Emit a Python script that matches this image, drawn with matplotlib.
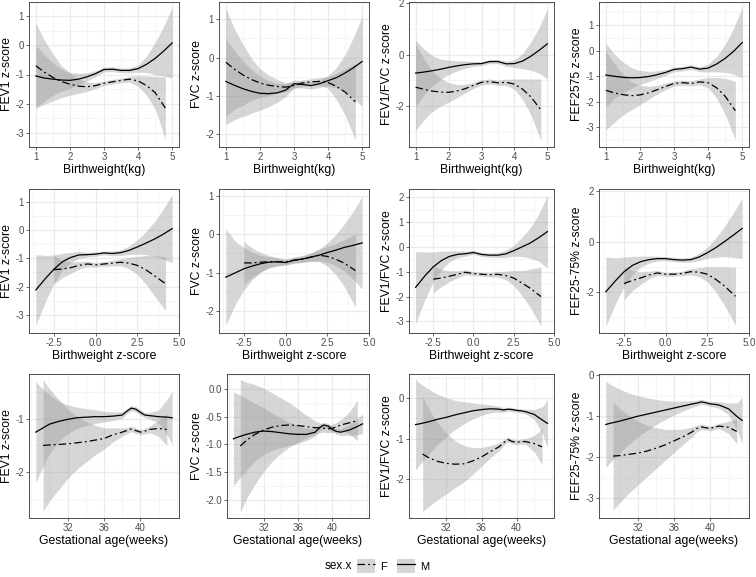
import matplotlib
matplotlib.use("Agg")
import matplotlib.pyplot as plt
from matplotlib.patches import Patch
from matplotlib.lines import Line2D
from matplotlib.ticker import AutoMinorLocator, FormatStrFormatter

plt.rcParams['font.family'] = ['Liberation Sans', 'DejaVu Sans']

# ---- x grids (per row, per sex) ----
BW_M = [1.0, 1.25, 1.5, 1.75, 2.0, 2.25, 2.5, 2.75, 3.0, 3.25, 3.5, 3.75, 4.0, 4.25, 4.5, 4.75, 5.0]
BW_F = [1.0, 1.25, 1.5, 1.75, 2.0, 2.25, 2.5, 2.75, 3.0, 3.25, 3.5, 3.75, 4.0, 4.25, 4.5, 4.8]
BWZ_M = [-3.6, -3.0, -2.5, -2.0, -1.5, -1.0, -0.5, 0.0, 0.5, 1.0, 1.5, 2.0, 2.5, 3.0, 3.5, 4.0, 4.6]
BWZ_F = [-2.5, -2.0, -1.5, -1.0, -0.5, 0.0, 0.5, 1.0, 1.5, 2.0, 2.5, 3.0, 3.5, 4.2]
GA_M = [28.5, 29, 30, 31, 32, 33, 34, 35, 36, 37, 38, 38.5, 39, 39.5, 40, 40.5, 41, 42, 43, 43.5]
GA_F = [29.3, 30, 31, 32, 33, 34, 35, 36, 37, 38, 38.5, 39, 39.5, 40, 40.5, 41, 42, 42.9]

# ---- smoothed means and CI half widths (M solid, F dotdash) ----
fev1_bw_m = [-1.05, -1.12, -1.16, -1.19, -1.2, -1.16, -1.08, -0.97, -0.83, -0.82, -0.86, -0.86, -0.8, -0.65, -0.45, -0.2, 0.08]
fev1_bw_m_ci = [1.05, 0.8, 0.55, 0.38, 0.27, 0.2, 0.14, 0.1, 0.08, 0.08, 0.08, 0.09, 0.12, 0.28, 0.55, 0.85, 1.2]
fev1_bw_f = [-0.7, -0.92, -1.1, -1.24, -1.33, -1.4, -1.42, -1.38, -1.3, -1.25, -1.2, -1.16, -1.22, -1.38, -1.62, -2.15]
fev1_bw_f_ci = [1.45, 1.1, 0.8, 0.55, 0.38, 0.25, 0.16, 0.1, 0.08, 0.08, 0.08, 0.1, 0.18, 0.33, 0.55, 1.07]

fvc_bw_m = [-0.62, -0.72, -0.81, -0.88, -0.93, -0.94, -0.92, -0.85, -0.68, -0.7, -0.73, -0.68, -0.6, -0.52, -0.4, -0.26, -0.1]
fvc_bw_m_ci = [1.12, 0.9, 0.72, 0.57, 0.44, 0.34, 0.25, 0.17, 0.1, 0.09, 0.09, 0.1, 0.13, 0.27, 0.48, 0.8, 1.18]
fvc_bw_f = [-0.12, -0.3, -0.45, -0.57, -0.66, -0.72, -0.75, -0.77, -0.73, -0.66, -0.63, -0.62, -0.65, -0.75, -0.9, -1.15]
fvc_bw_f_ci = [1.4, 1.05, 0.8, 0.55, 0.37, 0.27, 0.18, 0.12, 0.08, 0.08, 0.08, 0.1, 0.15, 0.35, 0.6, 1.0]

ratio_bw_m = [-0.72, -0.68, -0.63, -0.57, -0.5, -0.44, -0.39, -0.36, -0.35, -0.27, -0.27, -0.36, -0.35, -0.25, -0.06, 0.17, 0.42]
ratio_bw_m_ci = [1.29, 0.9, 0.6, 0.4, 0.28, 0.2, 0.14, 0.1, 0.08, 0.08, 0.08, 0.1, 0.15, 0.3, 0.55, 0.9, 1.36]
ratio_bw_f = [-1.27, -1.35, -1.42, -1.46, -1.47, -1.42, -1.33, -1.2, -1.08, -1.05, -1.1, -1.08, -1.15, -1.35, -1.65, -2.15]
ratio_bw_f_ci = [1.68, 1.2, 0.8, 0.55, 0.38, 0.26, 0.17, 0.12, 0.1, 0.1, 0.1, 0.12, 0.2, 0.4, 0.7, 1.2]

fef_bw_m = [-0.95, -1.0, -1.04, -1.06, -1.05, -1.01, -0.94, -0.85, -0.73, -0.7, -0.64, -0.72, -0.68, -0.52, -0.3, -0.02, 0.32]
fef_bw_m_ci = [1.25, 0.88, 0.6, 0.4, 0.28, 0.2, 0.15, 0.11, 0.09, 0.09, 0.09, 0.1, 0.15, 0.3, 0.55, 0.9, 1.38]
fef_bw_f = [-1.55, -1.65, -1.72, -1.76, -1.73, -1.65, -1.53, -1.4, -1.28, -1.25, -1.28, -1.22, -1.25, -1.45, -1.78, -2.35]
fef_bw_f_ci = [1.55, 1.15, 0.8, 0.55, 0.38, 0.26, 0.17, 0.12, 0.1, 0.1, 0.1, 0.12, 0.2, 0.4, 0.7, 1.15]

fev1_bwz_m = [-2.12, -1.7, -1.38, -1.12, -0.97, -0.88, -0.87, -0.85, -0.81, -0.83, -0.8, -0.72, -0.6, -0.47, -0.33, -0.17, 0.05]
fev1_bwz_m_ci = [1.25, 0.8, 0.5, 0.3, 0.18, 0.12, 0.08, 0.07, 0.07, 0.08, 0.1, 0.15, 0.25, 0.4, 0.6, 0.85, 1.2]
fev1_bwz_f = [-1.4, -1.38, -1.33, -1.25, -1.2, -1.23, -1.2, -1.17, -1.14, -1.17, -1.25, -1.4, -1.6, -1.9]
fev1_bwz_f_ci = [0.5, 0.3, 0.2, 0.13, 0.1, 0.08, 0.08, 0.1, 0.12, 0.2, 0.32, 0.5, 0.7, 0.95]

fvc_bwz_m = [-1.12, -1.0, -0.9, -0.83, -0.77, -0.73, -0.72, -0.74, -0.68, -0.65, -0.6, -0.55, -0.48, -0.42, -0.35, -0.3, -0.23]
fvc_bwz_m_ci = [1.25, 0.8, 0.55, 0.35, 0.22, 0.14, 0.1, 0.07, 0.07, 0.08, 0.1, 0.15, 0.25, 0.4, 0.6, 0.85, 1.2]
fvc_bwz_f = [-0.75, -0.75, -0.73, -0.72, -0.72, -0.72, -0.68, -0.65, -0.6, -0.55, -0.58, -0.65, -0.75, -0.95]
fvc_bwz_f_ci = [0.55, 0.38, 0.25, 0.16, 0.11, 0.08, 0.08, 0.09, 0.11, 0.16, 0.25, 0.4, 0.6, 0.95]

ratio_bwz_m = [-1.63, -1.15, -0.8, -0.55, -0.38, -0.3, -0.27, -0.22, -0.3, -0.33, -0.33, -0.28, -0.15, 0.0, 0.15, 0.35, 0.62]
ratio_bwz_m_ci = [1.45, 0.95, 0.6, 0.38, 0.22, 0.14, 0.1, 0.08, 0.08, 0.09, 0.1, 0.14, 0.22, 0.38, 0.6, 0.9, 1.47]
ratio_bwz_f = [-1.3, -1.25, -1.18, -1.1, -1.02, -1.07, -1.1, -1.12, -1.1, -1.15, -1.25, -1.45, -1.65, -2.0]
ratio_bwz_f_ci = [0.55, 0.35, 0.22, 0.14, 0.1, 0.08, 0.08, 0.09, 0.11, 0.17, 0.3, 0.5, 0.75, 1.2]

fef_bwz_m = [-2.0, -1.55, -1.2, -0.95, -0.8, -0.72, -0.68, -0.68, -0.72, -0.74, -0.72, -0.62, -0.45, -0.25, -0.02, 0.22, 0.52]
fef_bwz_m_ci = [1.38, 0.9, 0.58, 0.36, 0.22, 0.14, 0.1, 0.08, 0.08, 0.09, 0.1, 0.14, 0.22, 0.38, 0.58, 0.85, 1.2]
fef_bwz_f = [-1.67, -1.55, -1.45, -1.33, -1.25, -1.3, -1.3, -1.27, -1.2, -1.22, -1.3, -1.5, -1.75, -2.18]
fef_bwz_f_ci = [0.65, 0.4, 0.25, 0.15, 0.1, 0.08, 0.08, 0.09, 0.12, 0.18, 0.3, 0.5, 0.75, 1.15]

fev1_ga_m = [-1.25, -1.2, -1.1, -1.05, -1.01, -0.98, -0.97, -0.96, -0.96, -0.95, -0.93, -0.86, -0.8, -0.82, -0.88, -0.93, -0.94, -0.96, -0.97, -0.98]
fev1_ga_m_ci = [0.95, 0.8, 0.55, 0.38, 0.27, 0.2, 0.16, 0.13, 0.1, 0.08, 0.06, 0.05, 0.05, 0.05, 0.05, 0.05, 0.06, 0.12, 0.35, 0.5]
fev1_ga_f = [-1.5, -1.49, -1.48, -1.47, -1.45, -1.43, -1.4, -1.37, -1.3, -1.25, -1.22, -1.19, -1.22, -1.25, -1.23, -1.2, -1.18, -1.2]
fev1_ga_f_ci = [1.23, 1.05, 0.85, 0.65, 0.5, 0.38, 0.28, 0.2, 0.13, 0.08, 0.06, 0.05, 0.05, 0.05, 0.05, 0.06, 0.15, 0.3]

fvc_ga_m = [-0.9, -0.87, -0.82, -0.78, -0.76, -0.77, -0.79, -0.81, -0.82, -0.82, -0.78, -0.7, -0.65, -0.67, -0.73, -0.77, -0.78, -0.74, -0.67, -0.63]
fvc_ga_m_ci = [0.85, 0.78, 0.65, 0.52, 0.42, 0.34, 0.27, 0.21, 0.16, 0.11, 0.07, 0.06, 0.05, 0.05, 0.05, 0.05, 0.06, 0.1, 0.15, 0.18]
fvc_ga_f = [-1.03, -0.93, -0.82, -0.74, -0.69, -0.66, -0.65, -0.66, -0.68, -0.7, -0.7, -0.71, -0.72, -0.71, -0.68, -0.65, -0.61, -0.57]
fvc_ga_f_ci = [1.2, 1.05, 0.9, 0.75, 0.62, 0.5, 0.4, 0.3, 0.2, 0.12, 0.09, 0.07, 0.07, 0.07, 0.08, 0.1, 0.2, 0.37]

ratio_ga_m = [-0.65, -0.63, -0.58, -0.52, -0.47, -0.41, -0.36, -0.31, -0.28, -0.26, -0.27, -0.29, -0.27, -0.28, -0.3, -0.31, -0.33, -0.4, -0.55, -0.62]
ratio_ga_m_ci = [1.12, 1.0, 0.8, 0.62, 0.48, 0.36, 0.27, 0.2, 0.14, 0.1, 0.07, 0.06, 0.05, 0.05, 0.05, 0.05, 0.06, 0.12, 0.35, 0.6]
ratio_ga_f = [-1.38, -1.47, -1.56, -1.61, -1.63, -1.62, -1.55, -1.45, -1.32, -1.2, -1.1, -1.02, -1.07, -1.09, -1.07, -1.07, -1.12, -1.2]
ratio_ga_f_ci = [1.42, 1.2, 0.95, 0.75, 0.58, 0.45, 0.33, 0.23, 0.15, 0.1, 0.07, 0.06, 0.06, 0.06, 0.06, 0.07, 0.2, 0.45]

fef_ga_m = [-1.2, -1.17, -1.12, -1.06, -1.0, -0.95, -0.9, -0.85, -0.8, -0.75, -0.7, -0.68, -0.65, -0.67, -0.7, -0.71, -0.73, -0.82, -1.02, -1.1]
fef_ga_m_ci = [1.05, 0.95, 0.78, 0.63, 0.5, 0.4, 0.31, 0.23, 0.17, 0.12, 0.08, 0.07, 0.06, 0.06, 0.06, 0.07, 0.08, 0.14, 0.35, 0.57]
fef_ga_f = [-1.97, -1.96, -1.93, -1.9, -1.85, -1.78, -1.7, -1.6, -1.5, -1.38, -1.3, -1.26, -1.28, -1.3, -1.26, -1.24, -1.27, -1.37]
fef_ga_f_ci = [1.32, 1.15, 0.95, 0.78, 0.63, 0.5, 0.38, 0.28, 0.19, 0.12, 0.08, 0.07, 0.06, 0.06, 0.06, 0.07, 0.15, 0.3]

X_LABELS = ["Birthweight(kg)", "Birthweight z-score", "Gestational age(weeks)"]
Y_LABELS = [["FEV1 z-score", "FVC z-score", "FEV1/FVC z-score", "FEF2575 z-score"],
            ["FEV1 z-score", "FVC z-score", "FEV1/FVC z-score", "FEF25-75% z-score"],
            ["FEV1 z-score", "FVC z-score", "FEV1/FVC z-score", "FEF25-75% z-score"]]
SEX_LABELS = ["F", "M"]

W, H = 756, 577
BAND = '#999999'
F_DASH = (0, (6, 2.5, 1.5, 2.5))

# panel boxes in pixels: left, top, right, bottom
ROW_TB = [(2, 147), (189, 333), (374, 518)]
COL_LR = [(29, 179), (219, 369), (409, 554), (599, 749)]

ROW_X = [(BW_M, BW_F, (0.8, 5.2), [1, 2, 3, 4, 5], '%d'),
         (BWZ_M, BWZ_F, (-4.01, 5.01), [-2.5, 0.0, 2.5, 5.0], '%.1f'),
         (GA_M, GA_F, (27.75, 44.25), [32, 36, 40], '%d')]

panels = [
    [(fev1_bw_m, fev1_bw_m_ci, fev1_bw_f, fev1_bw_f_ci, (-3.48, 1.48), [-3, -2, -1, 0, 1], '%d'),
     (fvc_bw_m, fvc_bw_m_ci, fvc_bw_f, fvc_bw_f_ci, (-2.33, 1.45), [-2, -1, 0, 1], '%d'),
     (ratio_bw_m, ratio_bw_m_ci, ratio_bw_f, ratio_bw_f_ci, (-3.6, 2.05), [-2, 0, 2], '%d'),
     (fef_bw_m, fef_bw_m_ci, fef_bw_f, fef_bw_f_ci, (-3.77, 1.91), [-3, -2, -1, 0, 1], '%d')],
    [(fev1_bwz_m, fev1_bwz_m_ci, fev1_bwz_f, fev1_bwz_f_ci, (-3.64, 1.45), [-3, -2, -1, 0, 1], '%d'),
     (fvc_bwz_m, fvc_bwz_m_ci, fvc_bwz_f, fvc_bwz_f_ci, (-2.57, 1.17), [-2, -1, 0, 1], '%d'),
     (ratio_bwz_m, ratio_bwz_m_ci, ratio_bwz_f, ratio_bwz_f_ci, (-3.47, 2.34), [-3, -2, -1, 0, 1, 2], '%d'),
     (fef_bwz_m, fef_bwz_m_ci, fef_bwz_f, fef_bwz_f_ci, (-3.64, 2.09), [-2, 0, 2], '%d')],
    [(fev1_ga_m, fev1_ga_m_ci, fev1_ga_f, fev1_ga_f_ci, (-2.86, -0.16), [-2, -1], '%d'),
     (fvc_ga_m, fvc_ga_m_ci, fvc_ga_f, fvc_ga_f_ci, (-2.33, 0.27), [-2.0, -1.5, -1.0, -0.5, 0.0], '%.1f'),
     (ratio_ga_m, ratio_ga_m_ci, ratio_ga_f, ratio_ga_f_ci, (-2.96, 0.6), [-2, -1, 0], '%d'),
     (fef_ga_m, fef_ga_m_ci, fef_ga_f, fef_ga_f_ci, (-3.48, 0.03), [-3, -2, -1, 0], '%d')],
]


def px_axes(fig, left, top, right, bottom):
    return fig.add_axes([left / W, 1 - bottom / H, (right - left) / W, (bottom - top) / H])


def band(ax, x, y, hw):
    lo = [a - b for a, b in zip(y, hw)]
    hi = [a + b for a, b in zip(y, hw)]
    ax.fill_between(x, lo, hi, color=BAND, alpha=0.4, linewidth=0, zorder=2)


fig = plt.figure(figsize=(W / 100, H / 100), dpi=100)

for r in range(3):
    xm, xf, xlim, xticks, xfmt = ROW_X[r]
    top, bottom = ROW_TB[r]
    for c in range(4):
        m, m_ci, f, f_ci, ylim, yticks, yfmt = panels[r][c]
        left, right = COL_LR[c]
        if r == 2 and c == 1:
            left = 227  # wider tick labels (-0.5 etc)
        ax = px_axes(fig, left, top, right, bottom)

        band(ax, xf, f, f_ci)
        band(ax, xm, m, m_ci)
        ax.plot(xf, f, color='black', lw=0.9, linestyle=F_DASH, zorder=3)
        ax.plot(xm, m, color='black', lw=0.9, zorder=3)

        ax.set_xlim(*xlim)
        ax.set_ylim(*ylim)
        ax.set_xticks(xticks)
        ax.set_yticks(yticks)
        ax.xaxis.set_major_formatter(FormatStrFormatter(xfmt))
        ax.yaxis.set_major_formatter(FormatStrFormatter(yfmt))
        ax.xaxis.set_minor_locator(AutoMinorLocator(2))
        ax.yaxis.set_minor_locator(AutoMinorLocator(2))
        ax.grid(True, which='major', color='#EBEBEB', lw=0.9, zorder=0)
        ax.grid(True, which='minor', color='#F2F2F2', lw=0.5, zorder=0)
        ax.set_axisbelow(True)

        ax.tick_params(which='major', direction='out', length=2.5, width=0.5, color='#333333',
                       labelcolor='#4D4D4D', labelsize=7, pad=1.2)
        ax.tick_params(which='minor', length=0)
        for s in ax.spines.values():
            s.set_color('#333333')
            s.set_linewidth(0.6)

        ax.set_xlabel(X_LABELS[r], fontsize=8.8, labelpad=1.5)
        ax.set_ylabel(Y_LABELS[r][c], fontsize=8.8, labelpad=1.5)

# legend along the bottom
ly = 1 - 566 / H
fig.text(325 / W, ly, "sex.x", fontsize=8.5, va='center', ha='left')
handles = [(Patch(facecolor=BAND, alpha=0.4, edgecolor='none'),
            Line2D([], [], color='black', lw=0.9, linestyle=F_DASH)),
           (Patch(facecolor=BAND, alpha=0.4, edgecolor='none'),
            Line2D([], [], color='black', lw=0.9))]
fig.legend(handles, SEX_LABELS, loc='center left', bbox_to_anchor=(357 / W, ly), ncol=2,
           frameon=False, fontsize=8, handlelength=1.6, handleheight=1.6,
           handletextpad=0.5, columnspacing=0.9, borderpad=0, borderaxespad=0)

fig.savefig('out.png', dpi=100)
